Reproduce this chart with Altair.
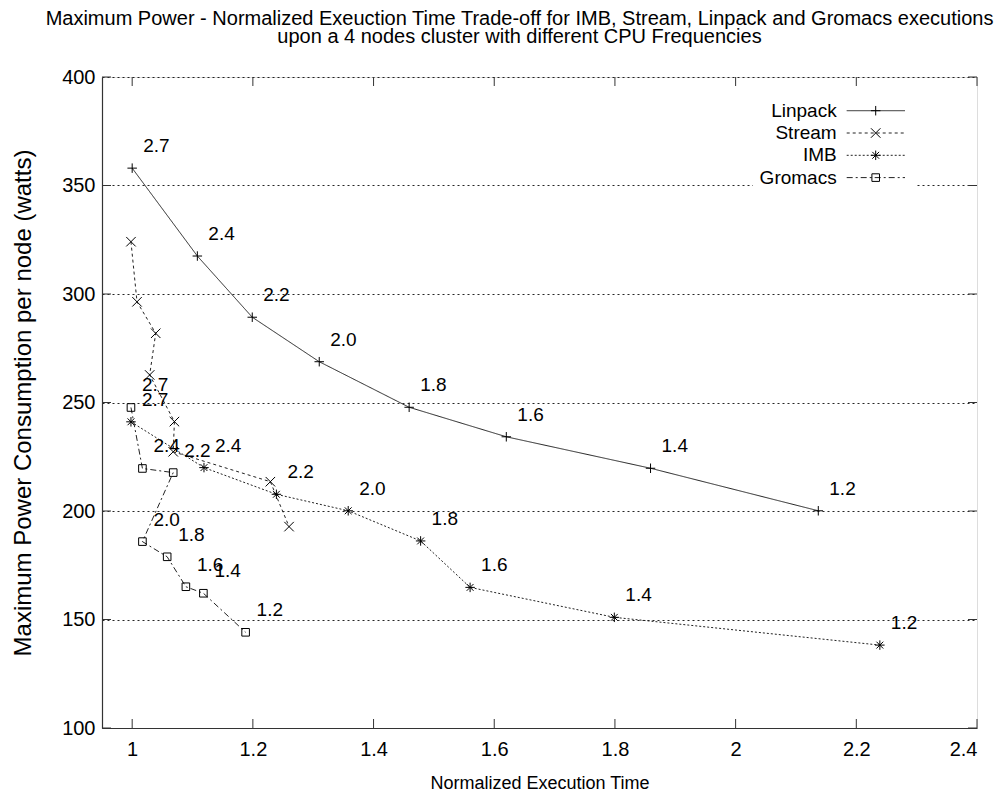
import altair as alt
import pandas as pd

# ---------------- data ----------------
freq_labels = ["2.7", "2.4", "2.2", "2.0", "1.8", "1.6", "1.4", "1.2"]
series_names = ["Linpack", "Stream", "IMB", "Gromacs"]

linpack_x = [1.000, 1.108, 1.199, 1.310, 1.459, 1.620, 1.859, 2.137]
linpack_y = [358.0, 317.5, 289.3, 268.8, 247.8, 234.2, 219.7, 200.1]

stream_x = [0.998, 1.008, 1.039, 1.029, 1.070, 1.068, 1.229, 1.260]
stream_y = [324.1, 296.4, 281.9, 262.7, 241.2, 227.3, 213.5, 192.8]

imb_x = [0.998, 1.119, 1.239, 1.358, 1.478, 1.560, 1.799, 2.239]
imb_y = [241.1, 220.0, 207.7, 200.1, 186.2, 164.8, 151.0, 138.2]

gromacs_x = [0.998, 1.017, 1.068, 1.017, 1.058, 1.089, 1.118, 1.188]
gromacs_y = [247.7, 219.6, 217.7, 185.9, 178.9, 165.1, 162.1, 144.1]

x_ticks = [1.0, 1.2, 1.4, 1.6, 1.8, 2.0, 2.2, 2.4]
y_ticks = [100, 150, 200, 250, 300, 350, 400]

title_lines = [
    "Maximum Power - Normalized Exeuction Time Trade-off for IMB, Stream, Linpack and Gromacs executions",
    "upon a 4 nodes cluster with different CPU Frequencies",
]
x_title = "Normalized Execution Time"
y_title = "Maximum Power Consumption per node (watts)"

# ---------------- styles ----------------
W, H = 875, 651
FONT = "Liberation Sans"
INK = "#000000"
LINE = "#222222"

PLUS = "M-1,0L1,0M0,-1L0,1"
CROSS = "M-1,-1L1,1M-1,1L1,-1"
STAR = "M-1,0L1,0M0,-1L0,1M-0.72,-0.72L0.72,0.72M-0.72,0.72L0.72,-0.72"
SQUARE = "M-0.8,-0.8L0.8,-0.8L0.8,0.8L-0.8,0.8Z"

styles = {
    "Linpack": dict(dash=[1, 0], shape=PLUS, labels=True),
    "Stream": dict(dash=[3, 3], shape=CROSS, labels=False),
    "IMB": dict(dash=[2, 2], shape=STAR, labels=True),
    "Gromacs": dict(dash=[6, 3, 2, 3], shape=SQUARE, labels=True),
}

series_data = {
    "Linpack": (linpack_x, linpack_y),
    "Stream": (stream_x, stream_y),
    "IMB": (imb_x, imb_y),
    "Gromacs": (gromacs_x, gromacs_y),
}

rows = []
for name in series_names:
    xs, ys = series_data[name]
    for i, (xv, yv) in enumerate(zip(xs, ys)):
        rows.append(dict(series=name, idx=i, x=xv, y=yv,
                         label=freq_labels[i] if styles[name]["labels"] else ""))
df = pd.DataFrame(rows)

xscale = alt.Scale(domain=[0.95, 2.4], nice=False, zero=False)
yscale = alt.Scale(domain=[100, 400], nice=False, zero=False)

xaxis = alt.Axis(values=x_ticks, format="~g", ticks=False, grid=False,
                 domainColor="#333", domainWidth=1.2,
                 labelFont=FONT, labelFontSize=20, labelColor=INK, labelPadding=11,
                 titleFont=FONT, titleFontSize=18, titleFontWeight="normal",
                 titleColor=INK, titlePadding=15)
yaxis = alt.Axis(values=y_ticks, ticks=False, grid=True, gridColor="#000",
                 gridDash=[2, 3], gridWidth=1, gridOpacity=0.85,
                 domainColor="#333", domainWidth=1.2,
                 labelFont=FONT, labelFontSize=20, labelColor=INK, labelPadding=7,
                 titleFont=FONT, titleFontSize=24, titleFontWeight="normal",
                 titleColor=INK, titlePadding=26)


def X(field):
    return alt.X(field, scale=xscale, axis=xaxis, title=x_title)


def Y(field):
    return alt.Y(field, scale=yscale, axis=yaxis, title=y_title)


dash_scale = alt.Scale(domain=series_names, range=[styles[n]["dash"] for n in series_names])
shape_scale = alt.Scale(domain=series_names, range=[styles[n]["shape"] for n in series_names])

base = alt.Chart(df)

lines = base.mark_line(color=LINE, strokeWidth=1).encode(
    x=X("x:Q"), y=Y("y:Q"),
    strokeDash=alt.StrokeDash("series:N", scale=dash_scale, legend=None),
    detail="series:N",
    order="idx:Q",
)

points = base.mark_point(filled=False, color=INK, size=90, strokeWidth=1, opacity=1).encode(
    x=X("x:Q"), y=Y("y:Q"),
    shape=alt.Shape("series:N", scale=shape_scale, legend=None),
)

labels = base.mark_text(align="left", baseline="middle", dx=11, dy=-22,
                        font=FONT, fontSize=19, color=INK).encode(
    x=X("x:Q"), y=Y("y:Q"), text="label:N",
)

# inward (and mirrored) tick marks
xt = pd.DataFrame({"x": x_ticks})
yt = pd.DataFrame({"y": y_ticks})
TL = 9
xtick_bottom = alt.Chart(xt).mark_rule(color="#333", strokeWidth=1).encode(
    x=X("x:Q"), y=alt.value(H), y2=alt.value(H - TL))
xtick_top = alt.Chart(xt).mark_rule(color="#333", strokeWidth=1).encode(
    x=X("x:Q"), y=alt.value(0), y2=alt.value(TL))
ytick_left = alt.Chart(yt).mark_rule(color="#333", strokeWidth=1).encode(
    y=Y("y:Q"), x=alt.value(0), x2=alt.value(TL))
ytick_right = alt.Chart(yt).mark_rule(color="#333", strokeWidth=1).encode(
    y=Y("y:Q"), x=alt.value(W - TL), x2=alt.value(W))

# key (drawn manually: label on the left, line with marker on the right)
key_layers = [
    alt.Chart(pd.DataFrame({"k": [0]})).mark_rect(fill="white").encode(
        x=alt.value(651), x2=alt.value(813), y=alt.value(13), y2=alt.value(113))
]
for i, name in enumerate(series_names):
    ry = 33.7 + 22.3 * i
    kd = pd.DataFrame({"t": [name]})
    key_layers.append(alt.Chart(kd).mark_text(align="right", baseline="middle", font=FONT,
                                              fontSize=19, color=INK).encode(
        x=alt.value(734.7), y=alt.value(ry), text="t:N"))
    key_layers.append(alt.Chart(kd).mark_rule(color=LINE, strokeWidth=1,
                                              strokeDash=styles[name]["dash"]).encode(
        x=alt.value(744.7), x2=alt.value(803), y=alt.value(ry)))
    key_layers.append(alt.Chart(kd).mark_point(shape=styles[name]["shape"], filled=False,
                                               color=INK, size=90, strokeWidth=1, opacity=1).encode(
        x=alt.value(773.7), y=alt.value(ry)))

chart = alt.layer(
    lines, points, labels, xtick_bottom, xtick_top, ytick_left, ytick_right, *key_layers
).properties(
    width=W, height=H,
    autosize=alt.AutoSizeParams(type="none"),
    padding={"left": 94, "top": 69, "right": 18, "bottom": 66},
    title=alt.TitleParams(text=title_lines, anchor="middle", frame="group", dx=-20,
                          font=FONT, fontSize=20, fontWeight="normal", color=INK,
                          lineHeight=18, offset=20),
).configure_view(stroke=None).configure(background="white")

chart.save("out.html", embed_options={"renderer": "svg", "actions": False})
